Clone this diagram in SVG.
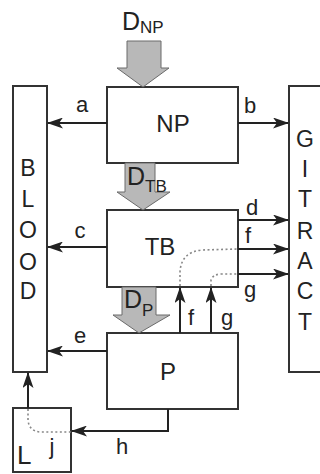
<svg xmlns="http://www.w3.org/2000/svg" width="320" height="474" viewBox="0 0 320 474">
<defs>
<marker id="ah" viewBox="0 0 16 11" refX="15" refY="5.5" markerWidth="16" markerHeight="11" markerUnits="userSpaceOnUse" orient="auto">
<path d="M0,0 L16,5.5 L0,11 L4,5.5 Z" fill="#222"/>
</marker>
</defs>
<style>
.box{fill:#fff;stroke:#333;stroke-width:2}
.blk{fill:#b8b8b8;stroke:#6a6a6a;stroke-width:1}
.ln{fill:none;stroke:#222;stroke-width:2}
.dot{fill:none;stroke:#888;stroke-width:1.6;stroke-dasharray:2,2.5}
text{font-family:"Liberation Sans",Arial,sans-serif;fill:#222}
.big{font-size:24px;text-anchor:middle}
.col{font-size:23px;text-anchor:middle}
.lab{font-size:22px;text-anchor:middle}
.d{font-size:25px}
.sub{font-size:17px}
</style>
<rect width="320" height="474" fill="#fff"/>

<g id="blood">
<rect class="box" x="13" y="86" width="34" height="286"/>
<text class="col" x="28" y="176">B</text>
<text class="col" x="28" y="207">L</text>
<text class="col" x="28" y="238">O</text>
<text class="col" x="28" y="270">O</text>
<text class="col" x="28" y="299">D</text>
</g>

<g id="gitract">
<rect class="box" x="289" y="86" width="40" height="286"/>
<text class="col" x="305" y="147">G</text>
<text class="col" x="305" y="177">I</text>
<text class="col" x="305" y="207">T</text>
<text class="col" x="305" y="239">R</text>
<text class="col" x="305" y="269">A</text>
<text class="col" x="305" y="299">C</text>
<text class="col" x="305" y="330">T</text>
</g>

<g id="np">
<rect class="box" x="107" y="87" width="131" height="76"/>
<text class="big" x="173" y="132">NP</text>
</g>

<g id="tb">
<rect class="box" x="107" y="210" width="131" height="77"/>
<text class="big" x="160" y="255">TB</text>
</g>

<g id="p">
<rect class="box" x="107" y="333" width="131" height="76"/>
<text class="big" x="168" y="380">P</text>
</g>

<g id="l">
<rect class="box" x="13" y="408" width="58" height="64"/>
<text x="17" y="464" font-size="26">L</text>
<text class="lab" x="52" y="454">j</text>
</g>

<g id="dnp">
<polygon class="blk" points="127,41 161,41 161,68 169,68 143,87 117,68 127,68"/>
<text x="122" y="30"><tspan class="d">D</tspan><tspan class="sub" dy="3">NP</tspan></text>
</g>
<g id="dtb">
<polygon class="blk" points="125,163 155,163 155,192 170,192 143,210 117,192 125,192"/>
<text x="127" y="185"><tspan class="d">D</tspan><tspan class="sub" dy="7">TB</tspan></text>
</g>
<g id="dp">
<polygon class="blk" points="122,287 156,287 156,315 170,315 139,333 113,315 122,315"/>
<text x="124" y="308"><tspan class="d">D</tspan><tspan class="sub" dy="8">P</tspan></text>
</g>

<g id="connectors">
<line class="ln" x1="107" y1="123" x2="48" y2="123" marker-end="url(#ah)"/>
<line class="ln" x1="238" y1="123" x2="288" y2="123" marker-end="url(#ah)"/>
<line class="ln" x1="107" y1="247" x2="48" y2="247" marker-end="url(#ah)"/>
<line class="ln" x1="238" y1="220" x2="288" y2="220" marker-end="url(#ah)"/>
<line class="ln" x1="238" y1="249" x2="288" y2="249" marker-end="url(#ah)"/>
<line class="ln" x1="238" y1="274" x2="288" y2="274" marker-end="url(#ah)"/>
<line class="ln" x1="107" y1="351" x2="48" y2="351" marker-end="url(#ah)"/>
<line class="ln" x1="180" y1="333" x2="180" y2="288" marker-end="url(#ah)"/>
<line class="ln" x1="211" y1="333" x2="211" y2="288" marker-end="url(#ah)"/>
<line class="ln" x1="28" y1="408" x2="28" y2="373" marker-end="url(#ah)"/>
<polyline class="ln" points="168,409 168,431 72,431" marker-end="url(#ah)"/>
<path class="dot" d="M180,286 L180,272 Q181,252 202,250 L238,249"/>
<path class="dot" d="M211,286 L211,280 Q213,274 222,274 L238,274"/>
<path class="dot" d="M28,409 L28,420 Q29,431 40,432 L71,432"/>
<text class="lab" x="82" y="112">a</text>
<text class="lab" x="250" y="113">b</text>
<text class="lab" x="80" y="238">c</text>
<text class="lab" x="252" y="215">d</text>
<text class="lab" x="248" y="243">f</text>
<text class="lab" x="250" y="297">g</text>
<text class="lab" x="80" y="343">e</text>
<text class="lab" x="191" y="325">f</text>
<text class="lab" x="227" y="325">g</text>
<text class="lab" x="122" y="454">h</text>
</g>
</svg>
